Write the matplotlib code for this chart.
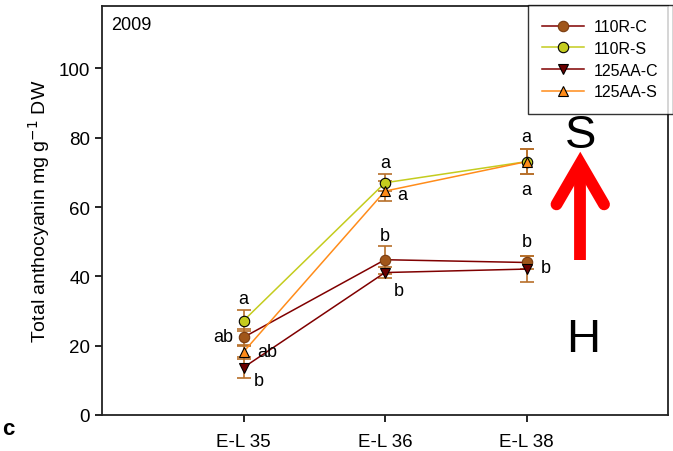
import numpy as np
import matplotlib.pyplot as plt

plt.rcParams['font.family'] = ['Liberation Sans', 'DejaVu Sans']

# anthocyanin content per stage (mg/g DW) and standard errors
stages = ['E-L 35', 'E-L 36', 'E-L 38']
r110_c = [22.4, 44.8, 44.0]
r110_c_err = [2.5, 4.0, 2.0]
r110_s = [27.2, 67.0, 73.1]
r110_s_err = [3.0, 2.5, 3.7]
aa125_c = [13.7, 41.1, 42.1]
aa125_c_err = [3.0, 1.5, 3.7]
aa125_s = [18.2, 64.6, 73.1]
aa125_s_err = [2.0, 3.0, 3.7]

# significance letters
r110_c_lab = ['ab', 'b', 'b']
r110_s_lab = ['a', 'a', 'a']
aa125_c_lab = ['b', 'b', 'b']
aa125_s_lab = ['ab', 'a', 'a']

x = np.arange(1, len(stages) + 1)

fig = plt.figure(figsize=(6.73, 4.52), dpi=100)
ax = fig.add_axes([102 / 673, 36 / 452, 566 / 673, 409 / 452])

err_col = '#b8702a'
series = [
    ('110R-C', r110_c, r110_c_err, 'o', '#a0561a', '#800000', '#7a3c10'),
    ('110R-S', r110_s, r110_s_err, 'o', '#c4cc1e', '#c4cc1e', 'black'),
    ('125AA-C', aa125_c, aa125_c_err, 'v', '#6b0000', '#800000', 'black'),
    ('125AA-S', aa125_s, aa125_s_err, '^', '#ff8c1a', '#ff8c1a', 'black'),
]
for name, y, e, m, fc, lc, ec in series:
    ax.errorbar(x, y, yerr=e, fmt='none', ecolor=err_col, elinewidth=1.2,
                capsize=5, capthick=1.2, zorder=2)
    ax.plot(x, y, color=lc, lw=1.1, zorder=3)
    ax.plot(x, y, ls='none', marker=m, ms=7.5, mfc=fc, mec=ec, mew=0.8,
            zorder=4)
    ax.plot([], [], color=lc, lw=1.1, marker=m, ms=7.5, mfc=fc, mec=ec,
            mew=0.8, label=name)

# letter offsets in pixels, converted to points
px = 72 / 100
offsets = {
    '110R-C': [(-20, 1), (0, 24), (0, 21)],
    '110R-S': [(0, 22), (0, 20), (0, 25)],
    '125AA-C': [(15, -13), (14, -18), (19, 2)],
    '125AA-S': [(24, 0), (17, -3), (0, -28)],
}
labels = {'110R-C': r110_c_lab, '110R-S': r110_s_lab,
          '125AA-C': aa125_c_lab, '125AA-S': aa125_s_lab}
for name, y, e, m, fc, lc, ec in series:
    for xi, yi, lab, (dx, dy) in zip(x, y, labels[name], offsets[name]):
        ax.annotate(lab, (xi, yi), xytext=(dx * px, dy * px),
                    textcoords='offset points', ha='center', va='center',
                    fontsize=13)

ax.set_xlim(0, 4)
ax.set_ylim(0, 118)
ax.set_xticks(x)
ax.set_xticklabels(stages, fontsize=13.5)
ax.set_yticks([0, 20, 40, 60, 80, 100])
ax.tick_params(axis='y', labelsize=13.5, length=5, width=1.2, direction='out')
ax.tick_params(axis='x', length=5, width=1.2, direction='out', pad=8)
for s in ax.spines.values():
    s.set_linewidth(1.3)
    s.set_color('#222222')
ax.set_ylabel('Total anthocyanin mg g$^{-1}$ DW', fontsize=14, labelpad=5)

ax.text(0.016, 0.975, '2009', transform=ax.transAxes, fontsize=13,
        va='top', ha='left')

leg = ax.legend(loc='upper right', bbox_to_anchor=(1.008, 1.003),
                fancybox=False, edgecolor='black', fontsize=11.5,
                handlelength=2.6, borderpad=0.9, labelspacing=0.42,
                handletextpad=0.6, borderaxespad=0)
leg.get_frame().set_linewidth(1.0)

# S / H labels with the red arrow between them
ax.text(0.845, 0.685, 'S', transform=ax.transAxes, fontsize=34,
        ha='center', va='center')
ax.text(0.85, 0.185, 'H', transform=ax.transAxes, fontsize=34,
        ha='center', va='center')
ax.plot([0.845, 0.845], [0.379, 0.60], transform=ax.transAxes,
        color='red', lw=8.5, solid_capstyle='butt', zorder=5)
ax.plot([0.803, 0.845, 0.887], [0.515, 0.615, 0.515],
        transform=ax.transAxes, color='red', lw=8.5,
        solid_capstyle='round', solid_joinstyle='miter', zorder=5)

fig.text(0.003, 0.05, 'c', fontsize=16, fontweight='bold',
         ha='left', va='center')

fig.savefig('out.png', dpi=100)
